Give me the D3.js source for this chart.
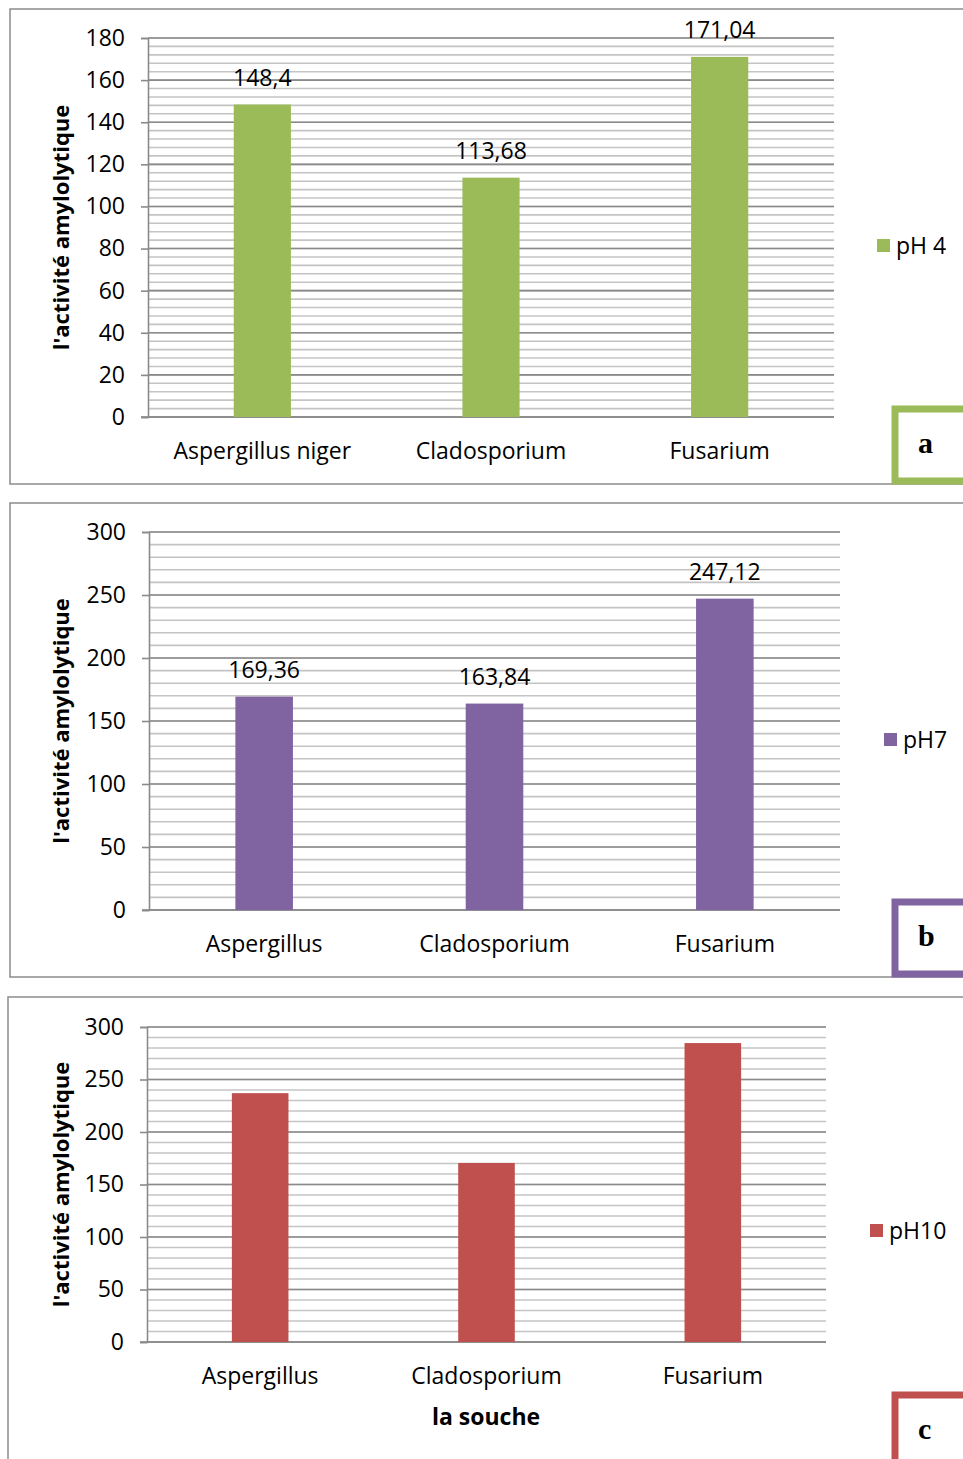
<!DOCTYPE html>
<html><head><meta charset="utf-8">
<script src="https://cdn.jsdelivr.net/npm/d3@7"></script>
<style>body{margin:0;background:#fff}svg{display:block}</style>
</head><body>
<script>
// ---- data ----
const categoriesA = ["Aspergillus niger", "Cladosporium", "Fusarium"];
const valuesA = [148.4, 113.68, 171.04];
const labelsA = ["148,4", "113,68", "171,04"];
const ticksA = [0, 20, 40, 60, 80, 100, 120, 140, 160, 180];

const categoriesB = ["Aspergillus", "Cladosporium", "Fusarium"];
const valuesB = [169.36, 163.84, 247.12];
const labelsB = ["169,36", "163,84", "247,12"];
const ticksB = [0, 50, 100, 150, 200, 250, 300];

const categoriesC = ["Aspergillus", "Cladosporium", "Fusarium"];
const valuesC = [237, 170.5, 284.7];
const ticksC = [0, 50, 100, 150, 200, 250, 300];

const yTitle = "l'activité amylolytique";
const xTitle = "la souche";

const W = 963, H = 1459;
const svg = d3.select("body").append("svg").attr("width", W).attr("height", H);
const FONT = "'Open Sans', sans-serif";
const FS = 23;

function panel(o) {
  const g = svg.append("g");
  g.append("rect").attr("x", o.bx).attr("y", o.by).attr("width", o.bw).attr("height", o.bh)
    .attr("fill", "none").attr("stroke", "#8c8c8c").attr("stroke-width", 1.5);

  const x = d3.scaleBand().domain(o.cats).range([o.x0, o.x1]).paddingInner(0).paddingOuter(0);
  const y = d3.scaleLinear().domain([0, o.max]).range([o.y0, o.y1]);

  const minor = d3.range(0, o.max + 1e-9, o.minor);
  g.selectAll(".mn").data(minor).enter().append("line")
    .attr("x1", o.x0).attr("x2", o.x1).attr("y1", d => y(d)).attr("y2", d => y(d))
    .attr("stroke", "#c4c4c4").attr("stroke-width", 1.6);
  g.selectAll(".mj").data(o.ticks).enter().append("line")
    .attr("x1", o.x0).attr("x2", o.x1).attr("y1", d => y(d)).attr("y2", d => y(d))
    .attr("stroke", "#8a8a8a").attr("stroke-width", 1.6);

  const ax = g.append("g").attr("transform", `translate(${o.x0},0)`)
    .call(d3.axisLeft(y).tickValues(o.ticks).tickSize(7).tickPadding(16).tickFormat(d3.format("d")));
  ax.select(".domain").attr("stroke", "#8a8a8a").attr("stroke-width", 1.6);
  ax.selectAll(".tick line").attr("stroke", "#8a8a8a").attr("stroke-width", 1.6);
  ax.selectAll("text").attr("font-family", FONT).attr("font-size", FS).attr("fill", "#000");

  g.append("line").attr("x1", o.x0 - 7).attr("x2", o.x1).attr("y1", o.y0).attr("y2", o.y0)
    .attr("stroke", "#8a8a8a").attr("stroke-width", 1.6);

  const bw = x.bandwidth() * 0.25;
  g.selectAll(".bar").data(o.vals).enter().append("rect")
    .attr("x", (d, i) => x(o.cats[i]) + x.bandwidth() / 2 - bw / 2)
    .attr("y", d => y(d)).attr("width", bw).attr("height", d => o.y0 - y(d))
    .attr("fill", o.color);

  if (o.labels) {
    g.selectAll(".lbl").data(o.vals).enter().append("text")
      .attr("x", (d, i) => x(o.cats[i]) + x.bandwidth() / 2)
      .attr("y", d => y(d) - 19)
      .attr("text-anchor", "middle").attr("font-family", FONT).attr("font-size", FS)
      .text((d, i) => o.labels[i]);
  }

  g.selectAll(".cat").data(o.cats).enter().append("text")
    .attr("x", d => x(d) + x.bandwidth() / 2).attr("y", o.y0 + 42)
    .attr("text-anchor", "middle").attr("font-family", FONT).attr("font-size", FS)
    .text(d => d);

  g.append("text").attr("transform", `translate(69,${(o.y0 + o.y1) / 2}) rotate(-90)`)
    .attr("text-anchor", "middle").attr("font-family", FONT).attr("font-size", 22)
    .attr("font-weight", "bold").text(yTitle);

  g.append("rect").attr("x", o.lx).attr("y", o.ly - 7).attr("width", 13).attr("height", 13).attr("fill", o.color);
  g.append("text").attr("x", o.lx + 19).attr("y", o.ly + 8).attr("font-family", FONT).attr("font-size", FS).text(o.legend);

  g.append("rect").attr("x", 895).attr("y", o.tby).attr("width", 80).attr("height", o.tbh)
    .attr("fill", "#fff").attr("stroke", o.color).attr("stroke-width", 7);
  g.append("text").attr("x", 918).attr("y", o.tby + 44).attr("font-family", "'Liberation Serif', serif")
    .attr("font-size", 30).attr("font-weight", "bold").text(o.letter);
  return g;
}

panel({cats: categoriesA, vals: valuesA, labels: labelsA, ticks: ticksA, max: 180, minor: 4,
  x0: 148, x1: 834, y0: 417, y1: 38, color: "#9BBB59",
  bx: 10, by: 9, bw: 990, bh: 475, lx: 877, ly: 246, legend: "pH 4",
  tby: 409, tbh: 72, letter: "a"});

panel({cats: categoriesB, vals: valuesB, labels: labelsB, ticks: ticksB, max: 300, minor: 10,
  x0: 149, x1: 840, y0: 910, y1: 532, color: "#8064A2",
  bx: 10, by: 503, bw: 990, bh: 474, lx: 884, ly: 740, legend: "pH7",
  tby: 902, tbh: 72, letter: "b"});

const gc = panel({cats: categoriesC, vals: valuesC, labels: null, ticks: ticksC, max: 300, minor: 10,
  x0: 147, x1: 826, y0: 1342, y1: 1027, color: "#C0504D",
  bx: 8, by: 997, bw: 990, bh: 500, lx: 870, ly: 1231, legend: "pH10",
  tby: 1395, tbh: 80, letter: "c"});
gc.append("text").attr("x", 486).attr("y", 1425).attr("text-anchor", "middle")
  .attr("font-family", FONT).attr("font-size", FS).attr("font-weight", "bold").text(xTitle);
</script>
</body></html>
